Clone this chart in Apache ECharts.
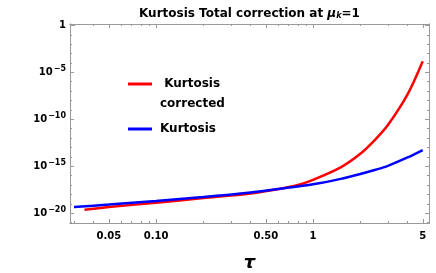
<!DOCTYPE html>
<html>
<head>
<meta charset="utf-8">
<script src="https://cdn.jsdelivr.net/npm/echarts@6/dist/echarts.min.js"></script>
<style>html,body{margin:0;padding:0;background:#fff;}#c{width:436px;height:273px;}</style>
</head>
<body>
<div id="c"></div>
<script>
// ---- data ----
const tauKurtosis = [0.03, 0.05, 0.1, 0.2, 0.4, 0.6, 1, 1.5, 2, 2.5, 3, 4, 5];
const kurtosis = [4.4e-20, 8.1e-20, 2.0e-19, 5.2e-19, 1.6e-18, 3.8e-18, 1.2e-17, 4.5e-17, 1.5e-16, 4.2e-16, 1.1e-15, 8.5e-15, 5.2e-14];
const tauCorrected = [0.035, 0.05, 0.1, 0.2, 0.4, 0.62, 0.8, 1, 1.5, 2, 2.5, 3, 4, 5];
const kurtosisCorrected = [2.3e-20, 4.4e-20, 1.3e-19, 4.0e-19, 1.26e-18, 4.0e-18, 1.0e-17, 3.55e-17, 7.6e-16, 2.1e-14, 7.4e-13, 2.4e-11, 4.4e-8, 1.5e-4];
const xMajorTicks = [0.05, 0.1, 0.5, 1, 5];
const xMajorLabels = ['0.05', '0.10', '0.50', '1', '5'];
const xMinorTicks = [0.03, 0.04, 0.06, 0.07, 0.08, 0.09, 0.2, 0.3, 0.4, 0.6, 0.7, 0.8, 0.9, 2, 3, 4];
const yMajorExponents = [0, -5, -10, -15, -20];
const yMinorExponents = [-1,-2,-3,-4,-6,-7,-8,-9,-11,-12,-13,-14,-16,-17,-18,-19,-21];
const xRange = [0.0283, 5.48];
const yRangeExp = [-21.05, 0.15];

const L = Math.log10;
const FONT = 'DejaVu Sans';
const FRAME = '#9a9a9a';

function xAxisDef(pos, major, labels) {
  const vals = (major ? xMajorTicks : xMinorTicks).map(L);
  return {
    type: 'value', position: pos, min: L(xRange[0]), max: L(xRange[1]),
    axisLine: { show: true, onZero: false, lineStyle: { color: FRAME, width: 1 } },
    axisTick: { show: true, inside: true, length: major ? 4 : 2, customValues: vals, lineStyle: { color: FRAME } },
    axisLabel: labels ? {
      show: true, customValues: vals, margin: 8,
      color: '#000', fontWeight: 'bold', fontSize: 10, fontFamily: FONT,
      formatter: v => { const i = xMajorTicks.findIndex(t => Math.abs(L(t) - v) < 1e-6); return i >= 0 ? xMajorLabels[i] : ''; }
    } : { show: false },
    splitLine: { show: false },
    name: labels ? 'τ' : '', nameLocation: 'middle', nameGap: 31,
    nameTextStyle: { fontFamily: 'DejaVu Sans', fontWeight: 'bold', fontStyle: 'italic', fontSize: 18, color: '#000' }
  };
}
function yAxisDef(pos, major, labels) {
  const vals = major ? yMajorExponents : yMinorExponents;
  return {
    type: 'value', position: pos, min: yRangeExp[0], max: yRangeExp[1],
    axisLine: { show: true, onZero: false, lineStyle: { color: FRAME, width: 1 } },
    axisTick: { show: true, inside: true, length: major ? 4 : 2, customValues: vals, lineStyle: { color: FRAME } },
    axisLabel: labels ? {
      show: true, customValues: vals, margin: 4,
      formatter: v => { const e = Math.round(v); return e === 0 ? '{b|1}' : '{b|10}{s|−' + (-e) + '}'; },
      rich: {
        b: { fontFamily: FONT, fontWeight: 'bold', fontSize: 10, color: '#000' },
        s: { fontFamily: FONT, fontWeight: 'bold', fontSize: 8, color: '#000', padding: [0, 0, 7, 1] }
      }
    } : { show: false },
    splitLine: { show: false }
  };
}

const chart = echarts.init(document.getElementById('c'), null, { renderer: 'canvas' });
chart.setOption({
  animation: false,
  backgroundColor: '#fff',
  title: {
    text: 'Kurtosis Total correction at {i|μ}{k|k}{n|=1}',
    left: 134, top: 3,
    textStyle: {
      fontFamily: FONT, fontWeight: 'bold', fontSize: 12, color: '#000',
      rich: {
        i: { fontFamily: FONT, fontWeight: 'bold', fontStyle: 'italic', fontSize: 12, color: '#000' },
        k: { fontFamily: FONT, fontWeight: 'bold', fontStyle: 'italic', fontSize: 8, color: '#000', padding: [4, 0, 0, 0] },
        n: { fontFamily: FONT, fontWeight: 'bold', fontSize: 12, color: '#000' }
      }
    }
  },
  grid: { left: 70, right: 7, top: 24, bottom: 50, containLabel: false, outerBoundsMode: 'none' },
  legend: {
    orient: 'vertical', left: 128, top: 54, padding: 0, itemWidth: 24, itemHeight: 3, itemGap: 5,
    icon: 'rect',
    data: ['Kurtosis corrected', 'Kurtosis'],
    formatter: n => n === 'Kurtosis corrected' ? ' \n Kurtosis\ncorrected' : 'Kurtosis',
    textStyle: { fontFamily: FONT, fontWeight: 'bold', fontSize: 12, color: '#000', lineHeight: 20, padding: [0, 0, 0, 3] }
  },
  xAxis: [xAxisDef('bottom', true, true), xAxisDef('bottom', false, false), xAxisDef('top', true, false), xAxisDef('top', false, false)],
  yAxis: [yAxisDef('left', true, true), yAxisDef('left', false, false), yAxisDef('right', true, false), yAxisDef('right', false, false)],
  series: [
    {
      name: 'Kurtosis corrected', type: 'line', smooth: 0.3, symbol: 'none', xAxisIndex: 0, yAxisIndex: 0,
      lineStyle: { color: '#ff0000', width: 2.5 }, itemStyle: { color: '#ff0000' },
      data: tauCorrected.map((t, i) => [L(t), L(kurtosisCorrected[i])]), z: 3
    },
    {
      name: 'Kurtosis', type: 'line', smooth: 0.3, symbol: 'none', xAxisIndex: 0, yAxisIndex: 0,
      lineStyle: { color: '#0000ff', width: 2.5 }, itemStyle: { color: '#0000ff' },
      data: tauKurtosis.map((t, i) => [L(t), L(kurtosis[i])]), z: 4
    }
  ]
});
</script>
</body>
</html>
